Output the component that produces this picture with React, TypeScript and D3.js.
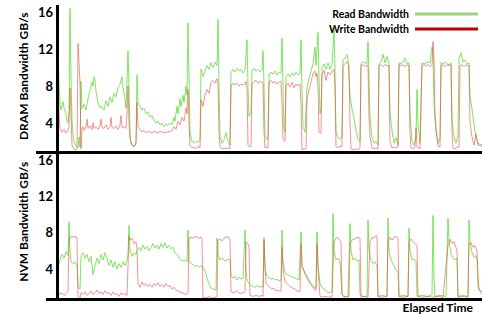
import * as d3 from "d3";

// elapsed time (arbitrary units) vs bandwidth GB/s
const dramRead: [number, number][] = [
  [0, 12.2], [1, 8.5], [2, 6.0], [3, 5.4], [5, 6.3], [6, 5.6], [8, 5.0], [9, 4.2], [10, 4.0], [11, 5.2],
  [12, 16.4], [13, 9.0], [14, 4.3], [15, 2.8], [16, 2.0], [18, 1.5], [20, 1.3], [21, 2.5], [22, 1.4], [23, 8.5],
  [24, 5.5], [26, 6.0], [28, 5.4], [30, 6.6], [32, 7.6], [34, 8.4], [35, 8.0], [36, 9.0], [37, 8.6], [38, 7.4],
  [40, 6.2], [42, 5.6], [44, 5.8], [46, 5.4], [48, 6.4], [50, 5.8], [52, 6.8], [54, 6.2], [56, 7.2], [58, 6.8],
  [60, 7.8], [62, 8.2], [64, 9.0], [65, 7.8], [67, 6.6], [68, 5.6], [70, 11.8], [71, 8.0], [72, 3.0], [73, 1.8],
  [75, 1.5], [77, 1.6], [78, 1.9], [79, 9.2], [80, 6.2], [82, 5.8], [84, 5.4], [86, 5.6], [88, 5.0], [90, 5.2],
  [92, 4.6], [94, 4.8], [96, 4.3], [98, 4.0], [100, 4.2], [102, 3.8], [104, 4.0], [106, 3.6], [108, 3.9], [110, 3.7],
  [112, 4.0], [114, 3.8], [116, 4.6], [117, 4.2], [119, 5.8], [120, 5.0], [122, 6.6], [123, 5.8], [125, 7.0], [126, 6.2],
  [128, 8.0], [129, 7.0], [130, 14.8], [131, 9.0], [132, 3.0], [134, 2.0], [136, 1.8], [138, 2.0], [140, 1.9], [142, 2.2],
  [143, 9.8], [145, 9.0], [147, 9.6], [149, 10.2], [151, 9.8], [153, 10.5], [155, 10.0], [157, 10.6], [159, 10.2], [160, 15.2],
  [161, 8.0], [162, 2.5], [164, 1.8], [166, 2.2], [168, 2.9], [170, 2.0], [172, 1.6], [173, 9.4], [175, 9.8], [177, 9.5],
  [179, 9.9], [181, 9.6], [183, 9.8], [185, 9.4], [187, 9.7], [189, 13.0], [190, 8.0], [191, 4.7], [193, 5.2], [194, 9.6],
  [196, 9.9], [198, 9.6], [200, 9.8], [202, 9.5], [204, 9.7], [205, 11.8], [206, 8.0], [207, 2.6], [209, 2.2], [210, 2.5],
  [211, 9.2], [213, 9.5], [215, 9.3], [217, 9.6], [219, 9.2], [221, 9.5], [223, 9.4], [224, 13.2], [225, 8.0], [226, 3.4],
  [227, 3.0], [228, 9.0], [230, 9.3], [232, 9.0], [234, 9.4], [236, 9.1], [238, 9.5], [240, 9.2], [242, 9.4], [243, 13.0],
  [244, 7.5], [245, 3.6], [247, 3.0], [249, 7.8], [251, 8.8], [253, 9.6], [255, 10.4], [257, 12.2], [258, 10.2], [260, 13.8],
  [261, 9.0], [262, 5.0], [263, 5.4], [264, 10.0], [266, 10.4], [268, 9.8], [270, 10.5], [272, 9.8], [274, 10.3], [276, 14.2],
  [277, 9.5], [278, 3.0], [280, 2.4], [282, 2.2], [284, 2.6], [285, 10.8], [287, 11.0], [289, 11.4], [290, 10.8], [292, 7.0],
  [294, 5.5], [296, 4.5], [298, 3.2], [300, 2.2], [302, 2.0], [303, 10.4], [305, 10.6], [307, 10.5], [309, 10.4], [310, 12.8],
  [311, 9.0], [312, 4.6], [314, 2.4], [316, 1.8], [318, 2.0], [320, 1.6], [321, 10.4], [323, 10.6], [325, 11.4], [327, 10.5],
  [329, 11.2], [331, 10.4], [332, 5.0], [334, 3.2], [336, 1.8], [338, 2.4], [340, 1.6], [341, 10.5], [343, 10.4], [345, 10.6],
  [347, 11.0], [349, 10.4], [351, 10.5], [352, 5.0], [354, 2.0], [356, 1.6], [358, 2.4], [359, 7.6], [360, 4.0], [362, 1.8],
  [364, 10.5], [366, 10.4], [368, 10.5], [370, 10.6], [372, 10.5], [374, 12.2], [375, 11.4], [376, 6.0], [378, 3.0], [380, 1.8],
  [382, 2.4], [383, 10.5], [385, 10.4], [387, 10.6], [389, 10.4], [391, 10.3], [393, 10.5], [394, 4.5], [396, 2.5], [398, 1.8],
  [400, 2.6], [401, 11.0], [403, 11.6], [405, 10.6], [407, 10.8], [409, 10.4], [411, 10.5], [412, 7.0], [414, 5.5], [416, 3.8],
  [418, 2.4], [420, 1.8], [424, 1.6],
];

const dramWrite: [number, number][] = [
  [0, 8.0], [1, 5.0], [2, 3.4], [4, 3.0], [6, 3.3], [8, 2.9], [10, 3.2], [11, 3.6], [12, 7.8], [13, 5.0],
  [14, 1.6], [16, 1.2], [18, 1.1], [19, 1.2], [20, 12.6], [21, 10.5], [22, 8.4], [23, 1.2], [24, 3.4], [25, 3.6],
  [26, 3.2], [28, 3.6], [29, 4.4], [30, 3.4], [32, 3.7], [34, 3.3], [35, 4.0], [36, 3.4], [38, 3.6], [40, 3.3],
  [42, 3.7], [43, 4.4], [44, 3.5], [46, 3.4], [48, 3.8], [50, 3.3], [52, 3.6], [53, 4.6], [54, 3.5], [56, 3.4],
  [58, 3.7], [60, 3.3], [62, 3.8], [63, 4.8], [64, 3.5], [66, 3.6], [68, 3.4], [69, 5.0], [70, 8.0], [71, 4.0],
  [72, 2.2], [74, 1.6], [76, 1.4], [78, 1.8], [79, 6.2], [80, 3.6], [82, 3.3], [84, 3.0], [86, 3.2], [88, 2.9],
  [90, 3.1], [92, 3.0], [94, 2.9], [96, 3.1], [98, 3.0], [100, 2.9], [102, 3.1], [104, 3.0], [106, 3.0], [108, 2.9],
  [110, 3.1], [112, 3.0], [114, 3.2], [116, 3.6], [118, 3.3], [120, 4.2], [122, 3.8], [124, 4.6], [126, 4.2], [128, 5.6],
  [129, 5.0], [130, 7.6], [131, 4.0], [132, 1.6], [134, 1.3], [136, 1.4], [138, 1.2], [140, 1.5], [142, 1.3], [143, 6.5],
  [145, 5.8], [147, 7.0], [149, 7.6], [151, 7.2], [153, 8.4], [155, 8.6], [157, 8.3], [159, 8.8], [160, 8.0], [161, 3.0],
  [162, 1.4], [164, 1.2], [166, 1.3], [168, 1.2], [170, 1.3], [172, 1.2], [173, 8.0], [175, 8.3], [177, 8.1], [179, 8.3],
  [181, 8.0], [183, 8.2], [185, 8.1], [187, 8.2], [188, 8.5], [189, 7.8], [190, 1.6], [192, 1.4], [193, 1.6], [194, 8.2],
  [196, 8.5], [198, 8.6], [200, 8.3], [202, 8.5], [204, 8.4], [205, 8.3], [206, 3.0], [207, 1.3], [209, 1.4], [210, 1.3],
  [211, 8.4], [213, 8.6], [215, 8.3], [217, 8.5], [219, 8.2], [221, 8.4], [223, 8.5], [224, 6.0], [225, 2.2], [227, 2.0],
  [228, 8.0], [230, 8.3], [232, 7.9], [234, 8.4], [236, 7.8], [238, 8.2], [240, 8.0], [242, 8.2], [243, 6.0], [244, 1.1],
  [246, 1.2], [248, 1.2], [249, 6.5], [251, 7.6], [253, 8.4], [255, 9.4], [257, 9.6], [258, 9.0], [259, 9.4], [260, 8.0],
  [261, 3.0], [263, 2.9], [264, 9.2], [266, 9.7], [268, 8.6], [270, 9.5], [272, 9.2], [274, 9.6], [276, 9.8], [277, 8.0],
  [278, 1.4], [280, 1.3], [282, 1.5], [284, 1.4], [285, 10.2], [287, 10.4], [289, 10.6], [291, 10.3], [292, 4.0], [293, 1.2],
  [296, 1.1], [298, 1.2], [300, 1.1], [302, 1.3], [303, 10.2], [305, 10.3], [307, 10.1], [309, 10.3], [310, 10.0], [311, 4.5],
  [312, 2.5], [314, 1.3], [316, 1.2], [318, 1.3], [320, 1.2], [321, 10.2], [323, 10.3], [325, 10.1], [327, 10.3], [329, 10.2],
  [331, 10.2], [332, 2.0], [334, 1.3], [336, 1.4], [338, 1.3], [340, 1.4], [341, 10.3], [343, 10.2], [345, 10.3], [347, 10.1],
  [349, 10.3], [351, 10.2], [352, 3.0], [353, 1.3], [355, 1.2], [357, 1.4], [358, 3.5], [359, 1.4], [362, 1.2], [364, 10.2],
  [366, 10.3], [368, 10.2], [370, 10.3], [372, 10.1], [374, 10.3], [375, 12.8], [376, 11.0], [377, 5.0], [378, 3.5], [380, 1.5],
  [382, 1.4], [383, 10.2], [385, 10.3], [387, 10.1], [389, 10.3], [391, 10.2], [393, 10.3], [394, 3.0], [395, 1.3], [397, 1.2],
  [399, 1.4], [401, 1.4], [402, 10.2], [404, 10.3], [406, 10.1], [408, 10.3], [410, 10.2], [411, 10.2], [412, 4.0], [414, 2.5],
  [416, 1.6], [418, 2.8], [420, 1.6], [424, 1.5],
];

const nvmRead: [number, number][] = [
  [0, 4.1], [2, 5.0], [4, 5.6], [6, 5.2], [8, 5.9], [10, 5.5], [11, 9.2], [12, 6.0], [13, 4.8], [15, 4.6],
  [17, 4.8], [19, 4.4], [20, 2.0], [22, 1.8], [23, 5.5], [25, 5.8], [27, 5.2], [29, 5.6], [31, 4.8], [33, 5.4],
  [35, 3.4], [37, 4.4], [39, 5.2], [41, 4.6], [43, 5.6], [45, 5.0], [47, 5.8], [49, 5.2], [51, 4.4], [53, 5.0],
  [55, 4.2], [57, 4.8], [59, 4.0], [61, 4.6], [63, 4.2], [65, 4.8], [67, 4.4], [69, 5.0], [70, 5.6], [71, 8.8],
  [72, 6.0], [74, 5.4], [76, 5.8], [78, 5.6], [79, 6.0], [81, 6.4], [83, 6.0], [85, 6.6], [87, 6.2], [89, 6.5],
  [91, 6.0], [93, 6.4], [95, 6.8], [97, 6.3], [99, 6.6], [101, 6.2], [103, 6.8], [105, 6.4], [107, 6.9], [109, 6.3],
  [111, 6.6], [113, 6.2], [115, 6.4], [117, 5.8], [119, 5.6], [121, 5.2], [123, 5.0], [125, 4.9], [127, 5.0], [129, 4.8],
  [130, 8.3], [131, 5.0], [133, 4.6], [135, 4.5], [137, 4.3], [139, 4.4], [141, 4.2], [143, 4.4], [145, 4.2], [147, 3.8],
  [149, 3.0], [151, 2.4], [153, 1.9], [155, 1.8], [158, 1.7], [159, 7.4], [160, 5.6], [162, 5.0], [164, 5.2], [166, 5.0],
  [168, 4.9], [170, 5.1], [172, 5.0], [173, 3.3], [175, 3.0], [177, 3.2], [179, 2.8], [181, 3.1], [183, 2.9], [185, 3.0],
  [187, 8.3], [188, 4.0], [189, 2.8], [191, 2.4], [193, 2.2], [195, 2.1], [197, 2.0], [199, 2.2], [201, 2.0], [203, 2.1],
  [205, 2.0], [206, 7.5], [207, 4.0], [209, 3.2], [211, 3.0], [213, 2.9], [215, 3.0], [217, 2.8], [219, 2.9], [221, 2.7],
  [223, 2.8], [224, 8.3], [225, 4.8], [227, 3.6], [229, 3.4], [231, 3.3], [233, 3.2], [235, 3.1], [237, 3.0], [239, 2.9],
  [241, 2.8], [243, 8.1], [244, 4.2], [246, 3.8], [248, 3.4], [250, 3.0], [252, 2.6], [254, 2.3], [256, 2.0], [258, 1.9],
  [259, 8.1], [260, 4.5], [262, 2.4], [264, 2.0], [266, 1.8], [268, 1.6], [270, 1.4], [274, 1.5], [275, 10.1], [276, 6.0],
  [278, 5.0], [280, 5.2], [282, 4.8], [284, 1.2], [286, 1.0], [290, 1.0], [292, 9.0], [293, 6.0], [295, 5.0], [297, 5.2],
  [299, 4.9], [301, 5.0], [302, 1.2], [305, 1.0], [309, 1.0], [310, 9.4], [311, 6.0], [313, 5.0], [315, 4.6], [317, 4.8],
  [319, 4.4], [320, 1.0], [324, 1.1], [329, 1.0], [330, 9.6], [331, 6.0], [333, 5.0], [335, 4.5], [337, 4.2], [339, 3.8],
  [340, 3.7], [341, 1.0], [345, 1.1], [350, 1.0], [351, 8.5], [352, 6.0], [354, 5.0], [356, 5.1], [358, 4.9], [359, 1.0],
  [364, 1.1], [370, 1.0], [374, 1.2], [375, 9.9], [376, 3.0], [377, 1.0], [382, 1.1], [388, 1.0], [390, 9.6], [391, 7.0],
  [393, 5.7], [395, 5.2], [397, 5.0], [399, 5.2], [400, 1.0], [405, 1.1], [410, 1.0], [411, 9.4], [412, 7.0], [414, 5.8],
  [416, 5.3], [418, 5.5], [419, 5.0], [420, 2.0], [424, 1.2],
];

const nvmWrite: [number, number][] = [
  [0, 1.5], [2, 1.2], [4, 1.4], [6, 1.1], [8, 1.3], [10, 1.6], [11, 7.0], [12, 7.5], [14, 7.6], [16, 7.5],
  [18, 7.6], [19, 7.2], [20, 1.0], [22, 0.8], [23, 1.4], [25, 1.2], [27, 1.5], [29, 1.1], [31, 1.3], [33, 1.6],
  [35, 1.2], [37, 1.4], [39, 1.7], [41, 1.3], [43, 1.5], [45, 1.2], [47, 1.6], [49, 1.3], [51, 1.4], [53, 1.1],
  [55, 1.5], [57, 1.2], [59, 1.3], [61, 1.0], [63, 1.4], [65, 1.2], [67, 1.3], [69, 1.1], [71, 7.6], [72, 7.2],
  [74, 7.4], [76, 6.8], [78, 7.0], [79, 6.2], [80, 2.4], [82, 2.0], [84, 2.6], [86, 2.2], [88, 2.4], [90, 2.1],
  [92, 2.3], [94, 2.0], [96, 2.4], [98, 2.2], [100, 2.5], [102, 2.1], [104, 2.3], [106, 2.0], [108, 2.4], [110, 2.1],
  [112, 2.2], [114, 1.8], [116, 2.0], [118, 1.7], [120, 1.6], [122, 1.5], [124, 1.4], [126, 1.3], [128, 1.2], [130, 1.4],
  [131, 7.4], [133, 7.5], [135, 7.4], [137, 7.6], [139, 7.5], [141, 7.4], [143, 7.5], [144, 7.3], [145, 0.9], [148, 0.8],
  [151, 1.0], [154, 0.8], [157, 0.9], [159, 1.0], [160, 7.2], [162, 7.3], [164, 7.1], [166, 7.4], [168, 7.5], [170, 7.6],
  [172, 7.2], [173, 1.5], [176, 1.4], [179, 1.6], [182, 1.3], [185, 1.4], [187, 1.5], [188, 7.0], [190, 6.8], [191, 6.4],
  [192, 1.1], [195, 1.0], [198, 1.1], [201, 1.0], [204, 1.1], [205, 1.0], [206, 7.2], [207, 4.5], [208, 2.4], [210, 2.2],
  [212, 2.0], [214, 1.8], [216, 1.9], [218, 1.6], [220, 1.7], [222, 1.5], [223, 1.6], [224, 6.4], [225, 4.0], [227, 2.6],
  [229, 2.4], [231, 2.2], [233, 2.0], [235, 1.9], [237, 1.8], [239, 1.6], [241, 1.5], [242, 1.6], [243, 6.8], [244, 4.4],
  [246, 3.8], [248, 3.2], [250, 2.8], [252, 2.4], [254, 2.1], [256, 1.8], [258, 1.7], [259, 6.8], [260, 4.0], [262, 1.0],
  [265, 0.9], [268, 1.0], [271, 0.9], [274, 1.0], [276, 7.0], [277, 7.2], [279, 7.5], [281, 7.3], [283, 7.0], [284, 1.2],
  [286, 0.9], [288, 1.0], [290, 0.9], [291, 1.0], [292, 6.8], [294, 7.2], [296, 7.3], [298, 7.4], [300, 7.5], [302, 7.4],
  [303, 0.9], [306, 1.0], [310, 0.9], [312, 7.0], [314, 7.5], [316, 7.4], [318, 7.7], [319, 7.5], [320, 1.0], [324, 0.9],
  [329, 1.0], [330, 7.0], [332, 7.5], [334, 7.2], [336, 7.5], [338, 7.6], [340, 7.4], [341, 1.0], [345, 0.9], [350, 1.0],
  [351, 7.0], [353, 7.3], [355, 7.0], [357, 6.8], [359, 6.6], [360, 1.0], [365, 0.9], [370, 1.0], [375, 0.9], [380, 1.0],
  [385, 0.9], [390, 6.6], [392, 7.3], [394, 6.8], [396, 7.0], [398, 6.4], [399, 6.0], [400, 0.9], [405, 1.0], [410, 0.9],
  [411, 6.8], [413, 6.9], [415, 6.4], [417, 6.6], [419, 6.0], [420, 3.5], [421, 1.7], [424, 1.5],
];

const yTicks = [4, 8, 12, 16];
const legendLabels = ["Read Bandwidth", "Write Bandwidth"];

const W = 482;
const H = 315;
const readColor = "#5ede3a";
const writeColor = "#f04848";
const font = "Lato, 'Open Sans', sans-serif";

export default function App() {
  const x = d3.scaleLinear().domain([0, 424]).range([58, 482]);
  const yTop = d3.scaleLinear().domain([0.75, 16]).range([153, 12]);
  const yBot = d3.scaleLinear().domain([0.6, 16]).range([300, 160]);

  const lineTop = d3.line<[number, number]>().x((d) => x(d[0])).y((d) => yTop(d[1]));
  const lineBot = d3.line<[number, number]>().x((d) => x(d[0])).y((d) => yBot(d[1]));

  const x0 = x(0) - 0.5;
  const topBase = yTop(0.75) - 0.5;
  const botBase = yBot(0.6) - 0.5;

  return (
    <svg
      width={W}
      height={H}
      style={{ position: "absolute", left: 0, top: 0, background: "#fff" }}
      fontFamily={font}
    >
      <defs>
        <clipPath id="clipTop">
          <rect x={x0} y={0} width={W - x0} height={topBase - 1} />
        </clipPath>
        <clipPath id="clipBot">
          <rect x={x0} y={topBase + 1} width={W - x0} height={botBase - topBase - 2} />
        </clipPath>
      </defs>

      {/* series */}
      <g clipPath="url(#clipTop)" fill="none" strokeWidth={1} strokeLinejoin="round">
        <path d={lineTop(dramRead) ?? ""} stroke={readColor} strokeOpacity={0.8} />
        <path d={lineTop(dramWrite) ?? ""} stroke={writeColor} strokeOpacity={0.6} />
      </g>
      <g clipPath="url(#clipBot)" fill="none" strokeWidth={1} strokeLinejoin="round">
        <path d={lineBot(nvmRead) ?? ""} stroke={readColor} strokeOpacity={0.8} />
        <path d={lineBot(nvmWrite) ?? ""} stroke={writeColor} strokeOpacity={0.6} />
      </g>

      {/* axes */}
      <g stroke="#000" strokeWidth={3}>
        <line x1={x0} x2={x0} y1={5} y2={topBase} />
        <line x1={36} x2={W} y1={topBase} y2={topBase} />
        <line x1={x0} x2={x0} y1={topBase} y2={botBase + 1} />
        <line x1={46} x2={W} y1={botBase} y2={botBase} />
      </g>

      <g fontSize={13} fontWeight="bold" textAnchor="end" fill="#000">
        {yTicks.map((t) => (
          <text key={"t" + t} x={53} y={yTop(t)} dy="0.35em">
            {t}
          </text>
        ))}
        {yTicks.map((t) => (
          <text key={"b" + t} x={53} y={yBot(t)} dy="0.35em">
            {t}
          </text>
        ))}
      </g>

      <g fontSize={12} fontWeight="bold" textAnchor="middle" fill="#000">
        <text transform={`translate(28,${(yTop(16) + topBase) / 2 - 6}) rotate(-90)`}>
          DRAM Bandwidth GB/s
        </text>
        <text transform={`translate(28,${(yBot(16) + botBase) / 2 - 8}) rotate(-90)`}>
          NVM Bandwidth GB/s
        </text>
      </g>

      {/* legend */}
      <g fontSize={10.5} fontWeight="bold" fill="#000">
        {legendLabels.map((l, i) => (
          <g key={l} transform={`translate(0,${14 + i * 15})`}>
            <text x={409} dy="0.35em" textAnchor="end">
              {l}
            </text>
            <line
              x1={415}
              x2={478}
              stroke={i === 0 ? "#9dd37d" : "#c00000"}
              strokeWidth={3}
            />
          </g>
        ))}
      </g>

      <text x={473} y={312} fontSize={12} fontWeight="bold" textAnchor="end" fill="#000">
        Elapsed Time
      </text>
    </svg>
  );
}
